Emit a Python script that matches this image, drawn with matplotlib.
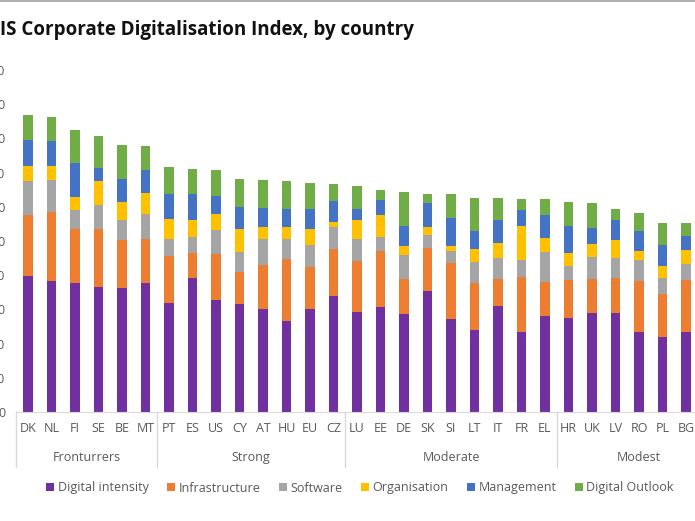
import matplotlib.pyplot as plt
import matplotlib.transforms as mtransforms
from matplotlib.lines import Line2D
import numpy as np

countries = ["DK", "NL", "FI", "SE", "BE", "MT",
             "PT", "ES", "US", "CY", "AT", "HU", "EU", "CZ",
             "LU", "EE", "DE", "SK", "SI", "LT", "IT", "FR", "EL",
             "HR", "UK", "LV", "RO", "PL", "BG"]

groups = ["Fronturrers", "Strong", "Moderate", "Modest"]
group_sizes = [6, 8, 9, 7]  # last group runs past the cropped edge

digital_intensity = [39.9, 38.3, 37.8, 36.6, 36.3, 37.7,
                     31.9, 39.2, 32.8, 31.7, 30.0, 26.7, 30.0, 34.0,
                     29.3, 30.8, 28.7, 35.3, 27.3, 24.0, 31.1, 23.4, 28.1,
                     27.5, 28.9, 28.9, 23.3, 22.0, 23.4]
infrastructure = [17.6, 20.1, 15.8, 16.8, 13.9, 13.0,
                  13.6, 7.4, 13.5, 9.3, 13.0, 18.0, 12.3, 13.8,
                  14.9, 16.4, 10.1, 12.7, 16.2, 13.7, 7.8, 16.0, 9.9,
                  11.0, 10.1, 10.4, 15.0, 12.5, 15.2]
software = [10.0, 9.4, 5.4, 7.0, 6.0, 7.1,
            5.2, 4.6, 7.0, 5.7, 7.5, 5.9, 6.4, 6.3,
            6.5, 3.9, 7.0, 3.7, 3.5, 6.1, 6.1, 5.0, 8.7,
            4.3, 6.2, 5.7, 6.2, 4.7, 4.7]
organisation = [4.4, 4.1, 3.9, 7.2, 5.2, 6.2,
                5.7, 5.0, 4.6, 6.8, 3.5, 3.6, 4.8, 1.5,
                5.3, 6.4, 2.7, 2.3, 1.5, 3.9, 4.4, 10.1, 4.2,
                3.7, 4.0, 5.3, 2.7, 3.6, 4.1]
management = [7.5, 7.3, 10.0, 3.8, 6.8, 6.9,
              7.4, 7.6, 5.2, 6.4, 5.6, 5.1, 5.9, 6.1,
              3.3, 4.5, 5.8, 7.1, 8.1, 5.2, 6.6, 4.6, 6.6,
              7.9, 4.5, 5.9, 5.7, 6.0, 4.1]
digital_outlook = [7.4, 7.0, 9.6, 9.3, 9.8, 6.9,
                   7.9, 7.3, 7.8, 8.2, 8.3, 8.3, 7.5, 5.1,
                   6.8, 2.8, 9.9, 2.7, 7.2, 9.6, 6.5, 3.2, 4.7,
                   7.0, 7.4, 3.3, 5.3, 6.5, 3.7]

series = [("Digital intensity", digital_intensity, "#7030A0"),
          ("Infrastructure", infrastructure, "#ED7D31"),
          ("Software", software, "#A5A5A5"),
          ("Organisation", organisation, "#FFC000"),
          ("Management", management, "#4472C4"),
          ("Digital Outlook", digital_outlook, "#70AD47")]

plt.rcParams['font.family'] = ['Open Sans', 'DejaVu Sans']
txt = "#595959"

fig = plt.figure(figsize=(6.95, 5.21), dpi=100)
W, H = 695, 521
left_px, slot = 16.25, 23.5
n_slots = sum(group_sizes)
ax = fig.add_axes([left_px / W, 1 - 412 / H, n_slots * slot / W, (412 - 70) / H])

x = np.arange(len(countries))
bottom = np.zeros(len(countries))
handles = []
for name, vals, col in series:
    b = ax.bar(x, vals, 0.4, bottom=bottom, color=col, label=name)
    bottom += np.array(vals)
    handles.append(b)

ax.set_xlim(-0.5, n_slots - 0.5)
ax.set_ylim(0, 100)
ax.set_yticks(np.arange(0, 101, 10))
ax.tick_params(axis='y', length=0, pad=8, labelsize=9, labelcolor=txt)
ax.set_xticks(x)
ax.set_xticklabels(countries)
ax.tick_params(axis='x', length=0, pad=7, labelsize=9, labelcolor=txt)
for s in ["top", "right", "left"]:
    ax.spines[s].set_visible(False)
ax.spines["bottom"].set_color("#d9d9d9")

trans = mtransforms.blended_transform_factory(ax.transData, ax.transAxes)
edge = -0.5
for g, n in zip(groups, group_sizes):
    ax.add_line(Line2D([edge, edge], [0, -0.161], transform=trans, color="#d9d9d9", lw=1, clip_on=False))
    ax.text(edge + n / 2, -0.134, g, transform=trans, ha='center', va='center', fontsize=9, color=txt)
    edge += n

fig.text(0.0, 1 - 30 / H, "IS Corporate Digitalisation Index, by country", fontsize=13.5,
         fontweight='bold', ha='left', va='center', color="#111111")
fig.add_artist(Line2D([0, 1], [0.999, 0.999], transform=fig.transFigure, color="#b0b0b0", lw=1.5))

leg = fig.legend(handles=handles, loc='center', bbox_to_anchor=(0.518, 1 - 488 / H), ncol=6,
                 frameon=False, fontsize=9, handlelength=0.6, handleheight=0.6,
                 handletextpad=0.3, columnspacing=1.5)
for t in leg.get_texts():
    t.set_color(txt)

fig.savefig("out.png", dpi=100)
